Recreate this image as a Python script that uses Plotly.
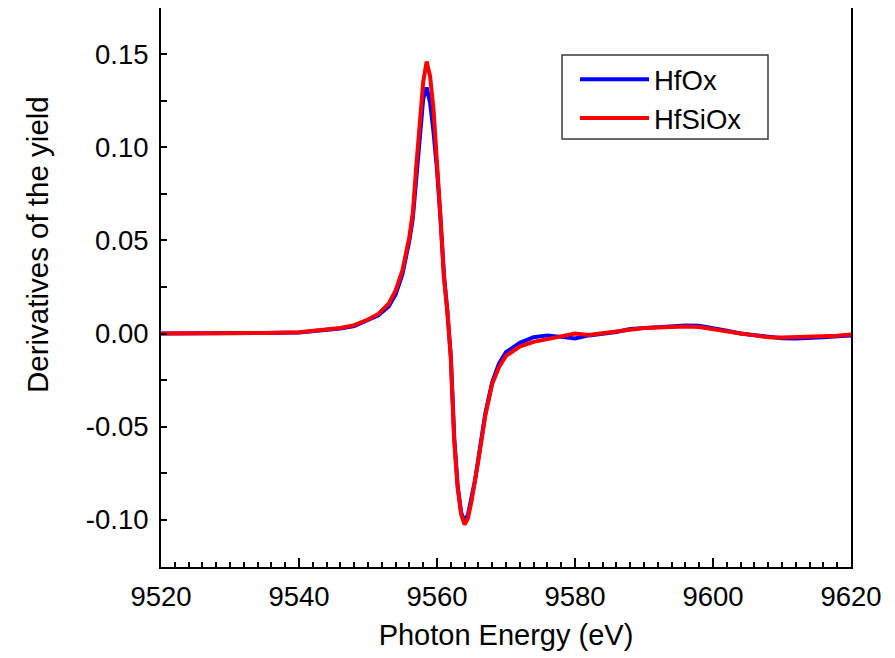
import plotly.graph_objects as go

energy = [9520, 9525, 9530, 9535, 9540, 9543, 9546, 9548, 9550, 9551.5, 9553, 9554, 9555,
          9556, 9556.5, 9557, 9557.5, 9558, 9558.5, 9559, 9559.5, 9560, 9560.5, 9561, 9561.5,
          9562, 9562.5, 9563, 9563.5, 9564, 9564.5, 9565, 9565.5, 9566, 9567, 9568, 9569,
          9570, 9572, 9574, 9576, 9578, 9580, 9582, 9584, 9586, 9588, 9590, 9592, 9594, 9596,
          9598, 9600, 9602, 9604, 9606, 9608, 9610, 9612, 9614, 9616, 9618, 9620]

hfox = [0, 0, 0.0002, 0.0003, 0.0006, 0.0014, 0.0027, 0.004, 0.007, 0.0098, 0.0145, 0.021, 0.032,
        0.050, 0.062, 0.085, 0.108, 0.126, 0.132, 0.124, 0.108, 0.088, 0.062, 0.032, 0.012,
        -0.012, -0.056, -0.082, -0.096, -0.101, -0.097, -0.089, -0.079, -0.067, -0.043, -0.026, -0.016,
        -0.010, -0.005, -0.002, -0.001, -0.0018, -0.0027, -0.001, 0.0, 0.0008, 0.0025, 0.003, 0.0032,
        0.0038, 0.0043, 0.0042, 0.003, 0.0015, 0.0, -0.001, -0.002, -0.0025, -0.0027, -0.0025, -0.002,
        -0.0015, -0.001]

hfsiox = [0, 0, 0.0003, 0.0003, 0.0007, 0.0018, 0.003, 0.0045, 0.0075, 0.0105, 0.016, 0.023, 0.034,
          0.052, 0.065, 0.090, 0.115, 0.135, 0.146, 0.138, 0.120, 0.095, 0.063, 0.030, 0.012,
          -0.013, -0.058, -0.083, -0.097, -0.1025, -0.099, -0.090, -0.080, -0.068, -0.044, -0.027, -0.018,
          -0.012, -0.007, -0.0045, -0.003, -0.0015, 0.0, -0.0008, 0.0, 0.001, 0.002, 0.003, 0.0033,
          0.0036, 0.0038, 0.0035, 0.0022, 0.0012, 0.0, -0.001, -0.002, -0.0022, -0.002, -0.002, -0.0015,
          -0.0012, -0.0005]

x_ticks = [9520, 9540, 9560, 9580, 9600, 9620]
y_ticks = [-0.10, -0.05, 0.00, 0.05, 0.10, 0.15]
y_tick_labels = ["-0.10", "-0.05", "0.00", "0.05", "0.10", "0.15"]

FONT = "Liberation Sans, Arial, sans-serif"

fig = go.Figure()
fig.add_trace(go.Scatter(x=energy, y=hfox, mode="lines", name="HfOx",
                         line=dict(color="#0000ff", width=4)))
fig.add_trace(go.Scatter(x=energy, y=hfsiox, mode="lines", name="HfSiOx",
                         line=dict(color="#ff0000", width=4)))

axis_common = dict(showline=True, linecolor="black", linewidth=2, mirror=True,
                   showgrid=False, zeroline=False, ticks="inside", tickcolor="black",
                   tickwidth=1.5, tickfont=dict(family=FONT, size=27.5, color="black"))

fig.update_xaxes(range=[9520, 9620], tickvals=x_ticks, ticklen=9, ticklabelstandoff=4,
                 minor=dict(dtick=2, ticks="inside", ticklen=5, tickcolor="black", tickwidth=1.5),
                 title=dict(text="Photon Energy (eV)", font=dict(family=FONT, size=29, color="black"),
                            standoff=14),
                 **axis_common)
fig.update_yaxes(range=[-0.1253, 0.1747], tickvals=y_ticks, ticktext=y_tick_labels,
                 ticklen=6, ticklabelstandoff=5,
                 minor=dict(dtick=0.025, tick0=0, ticks="inside", ticklen=6, tickcolor="black", tickwidth=1.5),
                 **axis_common)

# y-axis title placed like the reference (slightly above the plot centre)
fig.add_annotation(text="Derivatives of the yield", textangle=-90,
                   xref="paper", yref="paper", x=-0.1797, y=0.576,
                   xanchor="center", yanchor="middle", showarrow=False,
                   font=dict(family=FONT, size=29.5, color="black"))

# legend frame
fig.add_shape(type="rect", xref="paper", yref="paper",
              x0=0.5812, x1=0.8797, y0=0.7657, y1=0.9159,
              line=dict(color="#3a3a3a", width=1.5), fillcolor="white", layer="below")

fig.update_layout(
    width=895, height=658,
    margin=dict(l=153, r=52, t=0, b=99, autoexpand=False),
    plot_bgcolor="white", paper_bgcolor="white",
    showlegend=True,
    legend=dict(x=0.600, y=0.916, xanchor="left", yanchor="top",
                bgcolor="rgba(0,0,0,0)", borderwidth=0,
                font=dict(family=FONT, size=27.5, color="black"),
                itemwidth=69, tracegroupgap=0),
)

fig.write_html("out.html")
